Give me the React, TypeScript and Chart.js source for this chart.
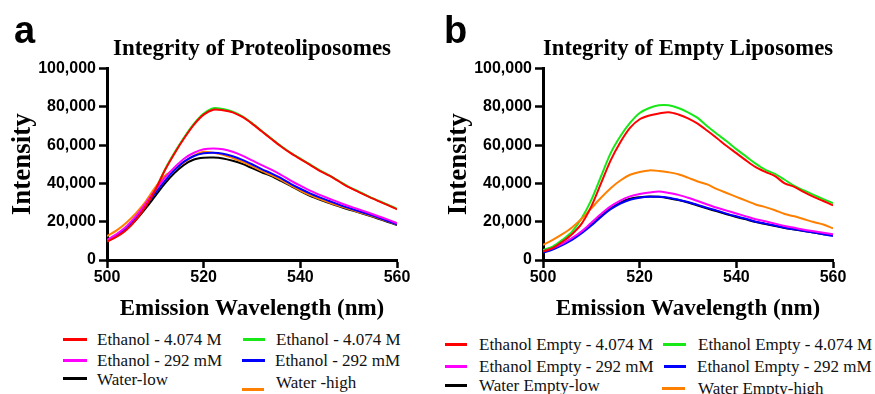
import React, { useEffect, useRef } from "react";
import { Chart, registerables } from "chart.js";

Chart.register(...registerables);

// ---------- data ----------
const wavelengths = [500, 502, 504, 506, 508, 510, 512, 514, 516, 518, 520, 522, 524, 526, 528, 530, 532, 534, 536, 538, 540, 542, 544, 546, 548, 550, 552, 554, 556, 558, 560];
const xTicks = [500, 520, 540, 560];
const yTicks = [0, 20000, 40000, 60000, 80000, 100000];

// panel a : proteoliposomes
const protoEthanolHighRed = [9600, 12200, 15700, 21000, 28000, 36600, 47000, 55800, 63700, 70700, 75900, 78500, 78200, 77100, 74700, 71200, 67200, 63200, 59300, 55800, 52700, 49700, 46600, 44000, 41000, 38000, 35600, 33200, 30900, 28800, 26500];
const protoEthanolHighGreen = [9800, 12400, 15900, 21200, 28200, 36800, 47300, 56200, 64200, 71200, 76500, 79300, 78800, 77500, 75000, 71500, 67400, 63400, 59500, 56000, 52900, 49900, 46800, 44200, 41200, 38200, 35800, 33400, 31100, 29000, 26700];
const protoEthanolLowMagenta = [10500, 13500, 17500, 23000, 29500, 36500, 43000, 48500, 53000, 56000, 57800, 58200, 57800, 56500, 54500, 52000, 49500, 47200, 44500, 41500, 38800, 36200, 34000, 32000, 30000, 28200, 26500, 24800, 23000, 21200, 19200];
const protoEthanolLowBlue = [10200, 13000, 16800, 22000, 28500, 35000, 41500, 47000, 51500, 54300, 55700, 56000, 55500, 54200, 52300, 50000, 47500, 45200, 42700, 39800, 37200, 34800, 32700, 30800, 28900, 27200, 25600, 24000, 22300, 20500, 18600];
const protoWaterLow = [9800, 12500, 16000, 21000, 27000, 33500, 40000, 45500, 49800, 52500, 53400, 53500, 53000, 51800, 50200, 48000, 45800, 43800, 41300, 38700, 36000, 33500, 31500, 29700, 28000, 26400, 24900, 23300, 21700, 20000, 18200];
const protoWaterHigh = [12500, 15500, 19500, 24500, 30500, 38000, 44000, 47500, 51000, 54500, 56500, 56000, 55000, 53200, 51300, 49000, 46500, 44300, 41800, 39000, 36300, 33900, 31900, 30000, 28300, 26700, 25100, 23600, 22000, 20300, 18500];

// panel b : empty liposomes
const emptyEthanolHighRed = [4500, 6200, 9500, 13500, 19000, 28000, 40000, 52000, 61500, 69000, 73500, 75500, 76500, 77200, 76000, 74000, 71200, 67500, 63600, 59500, 55800, 52000, 48500, 46000, 43800, 40000, 38200, 35500, 33000, 30800, 28500];
const emptyEthanolHighGreen = [5200, 7000, 10500, 14800, 21800, 31400, 43600, 55800, 64600, 71600, 76800, 79400, 80800, 80800, 79400, 77100, 74200, 69800, 65800, 62000, 57900, 54100, 50300, 47100, 45000, 41900, 38700, 36300, 34000, 31800, 29700];
const emptyEthanolLowMagenta = [4500, 6200, 8500, 11500, 15000, 19500, 24000, 28000, 31000, 33200, 34500, 35300, 35800, 35000, 34000, 32500, 30800, 29000, 27300, 25800, 24300, 22800, 21300, 20200, 19000, 17800, 16800, 15800, 15000, 14200, 13500];
const emptyEthanolLowBlue = [3800, 5500, 7800, 10500, 14000, 18000, 22500, 26500, 29500, 31500, 32500, 33000, 33000, 32500, 31500, 30300, 28800, 27200, 25800, 24200, 22800, 21500, 20000, 19000, 18000, 16800, 16000, 15200, 14300, 13500, 12500];
const emptyWaterLow = [4200, 5900, 8200, 11000, 14500, 18500, 23000, 27000, 30000, 32000, 32800, 33200, 33000, 32300, 31300, 30000, 28500, 26900, 25400, 23900, 22500, 21200, 19800, 18800, 17800, 16700, 15900, 15100, 14300, 13500, 13000];
const emptyWaterHigh = [7900, 10500, 13500, 17000, 21500, 27000, 32500, 37500, 41500, 44500, 46000, 46800, 46500, 45800, 44800, 43000, 41000, 39500, 37000, 35000, 33000, 31000, 29000, 27600, 26000, 24000, 22800, 21300, 19800, 18500, 16500];

const protoLabels = ["Ethanol - 4.074 M", "Ethanol - 4.074 M", "Ethanol - 292 mM", "Ethanol - 292 mM", "Water-low", "Water -high"];
const emptyLabels = ["Ethanol Empty - 4.074 M", "Ethanol Empty - 4.074 M", "Ethanol Empty - 292 mM", "Ethanol Empty - 292 mM", "Water Empty-low", "Water Empty-high"];

const seriesColors = ["#ff0000", "#18e818", "#ff00ff", "#0000ff", "#000000", "#ff8000"];
// legend order: red, green, magenta, blue, black, orange
const drawOrder = [0, 5, 1, 2, 4, 3];

const SERIF = "'Liberation Serif', 'Times New Roman', serif";
const SANS = "'Liberation Sans', Arial, sans-serif";

type LegendPos = { lineX: number; lineY: number; lineW: number; textX: number; textY: number };

function PanelChart(props: { title: string; values: number[][]; labels: string[]; left: number }) {
  const ref = useRef<HTMLCanvasElement>(null);
  useEffect(() => {
    const canvas = ref.current;
    if (!canvas) return;
    const chart = new Chart(canvas, {
      type: "line",
      data: {
        datasets: props.values.map((vals, i) => ({
          label: props.labels[i],
          data: wavelengths.map((x, j) => ({ x, y: vals[j] })),
          borderColor: seriesColors[i],
          backgroundColor: seriesColors[i],
          borderWidth: 2,
          pointRadius: 0,
          tension: 0.3,
          fill: false,
          order: drawOrder[i],
        })),
      },
      options: {
        responsive: false,
        animation: false,
        devicePixelRatio: 1,
        layout: { padding: { left: 0, right: 40, top: 0, bottom: 0 } },
        plugins: {
          legend: { display: false },
          tooltip: { enabled: false },
          title: {
            display: true,
            text: props.title,
            fullSize: false,
            color: "#000",
            font: { family: SERIF, weight: "bold", size: 23 },
            padding: { top: 35, bottom: 5.9 },
          },
        },
        scales: {
          x: {
            type: "linear",
            min: xTicks[0],
            max: xTicks[xTicks.length - 1],
            afterBuildTicks: (s: any) => {
              s.ticks = xTicks.map((v) => ({ value: v }));
            },
            afterFit: (s: any) => {
              s.height = 70;
            },
            grid: { drawOnChartArea: false, drawTicks: true, tickLength: 8, tickWidth: 2.5, tickColor: "#000" },
            border: { display: true, color: "#000", width: 3 },
            ticks: {
              color: "#000",
              font: { family: SANS, weight: "bold", size: 16 },
              padding: 0,
              maxRotation: 0,
              autoSkip: false,
            },
            title: {
              display: true,
              text: "Emission Wavelength (nm)",
              color: "#000",
              font: { family: SERIF, weight: "bold", size: 23 },
              padding: { top: 0, bottom: 7.2 },
            },
          },
          y: {
            type: "linear",
            min: yTicks[0],
            max: yTicks[yTicks.length - 1],
            afterBuildTicks: (s: any) => {
              s.ticks = yTicks.map((v) => ({ value: v }));
            },
            afterFit: (s: any) => {
              s.width = 107;
            },
            grid: { drawOnChartArea: false, drawTicks: true, tickLength: 8, tickWidth: 2.5, tickColor: "#000" },
            border: { display: true, color: "#000", width: 3 },
            ticks: {
              color: "#000",
              font: { family: SANS, weight: "bold", size: 16 },
              padding: 3,
              autoSkip: false,
              callback: (v: any) => Number(v).toLocaleString("en-US"),
            },
            title: {
              display: true,
              text: "Intensity",
              color: "#000",
              font: { family: SERIF, weight: "bold", size: 27 },
              padding: { top: 6.7, bottom: 0 },
            },
          },
        },
      } as any,
    });
    return () => chart.destroy();
  }, []);
  return (
    <canvas
      ref={ref}
      width={437}
      height={330}
      style={{ position: "absolute", left: props.left, top: 0, width: 437, height: 330 }}
    />
  );
}

function Legend(props: { labels: string[]; positions: LegendPos[] }) {
  return (
    <>
      {props.labels.map((lab, i) => {
        const p = props.positions[i];
        return (
          <React.Fragment key={i}>
            <div
              style={{
                position: "absolute",
                left: p.lineX,
                top: p.lineY - 1.5,
                width: p.lineW,
                height: 3,
                background: seriesColors[i],
              }}
            />
            <div
              style={{
                position: "absolute",
                left: p.textX,
                top: p.textY - 10,
                height: 20,
                lineHeight: "20px",
                fontFamily: SERIF,
                fontSize: 17,
                color: "#111",
                whiteSpace: "nowrap",
              }}
            >
              {lab}
            </div>
          </React.Fragment>
        );
      })}
    </>
  );
}

const legendA: LegendPos[] = [
  { lineX: 63, lineY: 339, lineW: 24, textX: 97, textY: 339.5 },
  { lineX: 243, lineY: 339, lineW: 22, textX: 276, textY: 339.5 },
  { lineX: 63, lineY: 360, lineW: 24, textX: 97, textY: 360.5 },
  { lineX: 242, lineY: 360, lineW: 23, textX: 275, textY: 360.5 },
  { lineX: 63, lineY: 378.5, lineW: 24, textX: 97, textY: 379.5 },
  { lineX: 242, lineY: 389, lineW: 22, textX: 276, textY: 383 },
];

const legendB: LegendPos[] = [
  { lineX: 445, lineY: 344.5, lineW: 22, textX: 479, textY: 345 },
  { lineX: 663, lineY: 344.5, lineW: 23, textX: 698, textY: 345 },
  { lineX: 445, lineY: 366, lineW: 22, textX: 479, textY: 366.5 },
  { lineX: 664, lineY: 366, lineW: 22, textX: 697, textY: 366.5 },
  { lineX: 445, lineY: 385.5, lineW: 22, textX: 479, textY: 386 },
  { lineX: 662, lineY: 388.5, lineW: 23, textX: 698, textY: 388.5 },
];

export default function App() {
  const letterStyle: React.CSSProperties = {
    position: "absolute",
    top: 11,
    fontFamily: SANS,
    fontWeight: "bold",
    fontSize: 38,
    lineHeight: "38px",
    color: "#000",
  };
  return (
    <div
      style={{
        position: "absolute",
        left: 0,
        top: 0,
        width: 875,
        height: 394,
        overflow: "hidden",
        background: "#fff",
      }}
    >
      <PanelChart
        title="Integrity of Proteoliposomes"
        values={[protoEthanolHighRed, protoEthanolHighGreen, protoEthanolLowMagenta, protoEthanolLowBlue, protoWaterLow, protoWaterHigh]}
        labels={protoLabels}
        left={0}
      />
      <PanelChart
        title="Integrity of Empty Liposomes"
        values={[emptyEthanolHighRed, emptyEthanolHighGreen, emptyEthanolLowMagenta, emptyEthanolLowBlue, emptyWaterLow, emptyWaterHigh]}
        labels={emptyLabels}
        left={436}
      />
      <div style={{ ...letterStyle, left: 14 }}>a</div>
      <div style={{ ...letterStyle, left: 444 }}>b</div>
      <Legend labels={protoLabels} positions={legendA} />
      <Legend labels={emptyLabels} positions={legendB} />
    </div>
  );
}
